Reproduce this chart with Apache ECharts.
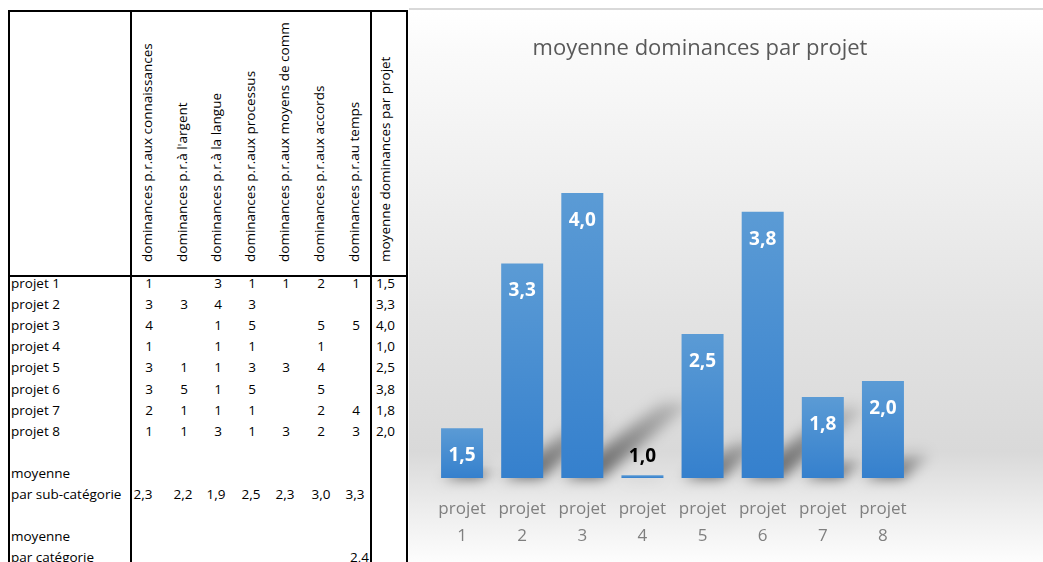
<!DOCTYPE html>
<html>
<head>
<meta charset="utf-8">
<script src="https://cdn.jsdelivr.net/npm/echarts@6/dist/echarts.min.js"></script>
<style>
    body {
        margin: 0;
        width: 1043px;
        height: 562px;
        overflow: hidden;
        background: #fff;
        font-family: 'Open Sans', sans-serif;
    }
    .t {
        position: absolute;
        font-size: 13.5px;
        line-height: 21px;
        white-space: nowrap;
        color: #000;
    }
    .c { text-align: center; width: 40px; }
    .rot {
        transform: rotate(-90deg);
        transform-origin: 0 0;
    }
    .ln { position: absolute; background: #000; }
    #topline { position: absolute; left: 409px; top: 8px; width: 634px; height: 2px; background: #d9d9d9; }
    #chart { position: absolute; left: 409px; top: 10px; width: 634px; height: 552px; }
</style>
</head>
<body>
<div id="table"></div>
<div id="topline"></div>
<div id="chart"></div>
<script>
// données du tableau
let rows = ['projet 1', 'projet 2', 'projet 3', 'projet 4', 'projet 5', 'projet 6', 'projet 7', 'projet 8']
let headers = [
    'dominances p.r.aux connaissances',
    "dominances p.r.à l'argent",
    'dominances p.r.à la langue',
    'dominances p.r.aux processus',
    'dominances p.r.aux moyens de comm',
    'dominances p.r.aux accords',
    'dominances p.r.au temps'
]
let avgHeader = 'moyenne dominances par projet'
let scores = [
    [1, null, 3, 1, 1, 2, 1],
    [3, 3, 4, 3, null, null, null],
    [4, null, 1, 5, null, 5, 5],
    [1, null, 1, 1, null, 1, null],
    [3, 1, 1, 3, 3, 4, null],
    [3, 5, 1, 5, null, 5, null],
    [2, 1, 1, 1, null, 2, 4],
    [1, 1, 3, 1, 3, 2, 3]
]
let subCatAvg = [2.3, 2.2, 1.9, 2.5, 2.3, 3.0, 3.3]
let catAvg = 2.4

// données du graphique
let categories = ['projet 1', 'projet 2', 'projet 3', 'projet 4', 'projet 5', 'projet 6', 'projet 7', 'projet 8']
let projectAvg = [1.5, 3.25, 4.0, 1.0, 2.5, 3.8, 1.83, 2.0]

let fmt = (v) => v.toFixed(1).replace('.', ',')

// tableau (html)
let tbl = document.getElementById('table')
let colX = [149, 184, 218, 252, 286, 321, 356]
let subX = [143, 183, 216, 251, 285, 321, 355]
let rowY = (i) => 285 + 21.1 * i
let addText = (txt, x, y, cls) => {
    let d = document.createElement('div')
    d.className = 't ' + (cls || '')
    d.textContent = txt
    d.style.left = x + 'px'
    d.style.top = (y - 12) + 'px'
    tbl.appendChild(d)
    return d
}
let addLine = (x, y, w, h) => {
    let d = document.createElement('div')
    d.className = 'ln'
    d.style.left = x + 'px'
    d.style.top = y + 'px'
    d.style.width = w + 'px'
    d.style.height = h + 'px'
    tbl.appendChild(d)
}
addLine(8, 10, 400, 2)
addLine(8, 275, 400, 2)
addLine(8, 10, 2, 552)
addLine(130, 10, 2, 552)
addLine(370, 10, 2, 552)
addLine(406, 10, 2, 552)

headers.concat([avgHeader]).forEach((h, j) => {
    let cx = j < 7 ? colX[j] : 387
    let d = document.createElement('div')
    d.className = 't rot'
    d.textContent = h
    d.style.left = (cx - 12) + 'px'
    d.style.top = '262px'
    tbl.appendChild(d)
})

rows.forEach((r, i) => {
    addText(r, 11, rowY(i))
    scores[i].forEach((v, j) => {
        if (v !== null) addText(String(v), colX[j] - 20, rowY(i), 'c')
    })
    addText(fmt(projectAvg[i]), 376, rowY(i))
})
addText('moyenne', 11, rowY(9))
addText('par sub-catégorie', 11, rowY(10))
subCatAvg.forEach((v, j) => addText(fmt(v), subX[j] - 20, rowY(10), 'c'))
addText('moyenne', 11, rowY(12))
addText('par catégorie', 11, rowY(13))
let ca = addText(fmt(catAvg), 0, rowY(13))
ca.style.left = ''
ca.style.right = (1043 - 369) + 'px'

// graphique
let myChart = echarts.init(document.getElementById('chart'))
let yMin = 0.97
let shift = 1500 // ombre floue : forme hors champ, seule l'ombre est visible

let barData = projectAvg.map((v) => {
    if (v - yMin < 0.2) {
        return { value: v, label: { position: 'top', distance: 9, color: '#000' } }
    }
    return v
})

let option = {
    animation: false,
    backgroundColor: new echarts.graphic.LinearGradient(0, 0, 0, 1, [
        { offset: 0, color: '#ffffff' },
        { offset: 0.08, color: '#fafafa' },
        { offset: 0.35, color: '#ededed' },
        { offset: 0.55, color: '#e3e3e3' },
        { offset: 0.8, color: '#d9d9d9' },
        { offset: 0.9, color: '#ececec' },
        { offset: 1, color: '#fdfdfd' }
    ]),
    title: {
        text: 'moyenne dominances par projet',
        left: 286,
        top: 23,
        textAlign: 'center',
        textStyle: {
            fontFamily: 'Open Sans',
            fontSize: 22,
            fontWeight: 'normal',
            color: '#595959'
        }
    },
    grid: {
        left: 23,
        right: 130,
        top: 183,
        bottom: 84
    },
    xAxis: {
        type: 'category',
        data: categories,
        axisLine: { show: false },
        axisTick: { show: false },
        axisLabel: {
            interval: 0,
            formatter: (v) => v.replace(' ', '\n'),
            color: '#7f7f7f',
            fontFamily: 'Open Sans',
            fontSize: 17,
            lineHeight: 27,
            margin: 18
        }
    },
    yAxis: {
        type: 'value',
        min: yMin,
        max: 4,
        show: false
    },
    series: [
        {
            // ombre en perspective
            type: 'custom',
            z: 1,
            silent: true,
            clip: false,
            data: projectAvg.map((v, i) => [i, v]),
            renderItem: (params, api) => {
                let base = api.coord([api.value(0), yMin])
                let top = api.coord([api.value(0), api.value(1)])
                let h = base[1] - top[1]
                let hw = 19
                let dx = 0.33 * h
                let dy = 0.27 * h
                return {
                    type: 'polygon',
                    shape: {
                        points: [
                            [base[0] - hw - shift, base[1]],
                            [base[0] + hw - shift, base[1]],
                            [base[0] + hw * 0.8 + dx - shift, base[1] - dy],
                            [base[0] - hw * 0.8 + dx - shift, base[1] - dy]
                        ]
                    },
                    style: {
                        fill: new echarts.graphic.LinearGradient(0, 1, 0, 0, [
                            { offset: 0, color: 'rgba(0,0,0,1)' },
                            { offset: 1, color: 'rgba(0,0,0,0.25)' }
                        ]),
                        shadowBlur: 14,
                        shadowOffsetX: shift,
                        shadowColor: 'rgba(60,60,60,0.8)'
                    }
                }
            }
        },
        {
            type: 'bar',
            z: 2,
            data: barData,
            barWidth: 42,
            itemStyle: {
                color: new echarts.graphic.LinearGradient(0, 0, 0, 1, [
                    { offset: 0, color: '#5b9bd5' },
                    { offset: 1, color: '#3580cd' }
                ])
            },
            label: {
                show: true,
                position: 'insideTop',
                distance: 18,
                formatter: (p) => fmt(p.value),
                color: '#fff',
                fontFamily: 'Open Sans',
                fontWeight: 'bold',
                fontSize: 19
            }
        }
    ]
}
myChart.setOption(option)
window.addEventListener('resize', function () {
    myChart.resize()
})
</script>
</body>
</html>
